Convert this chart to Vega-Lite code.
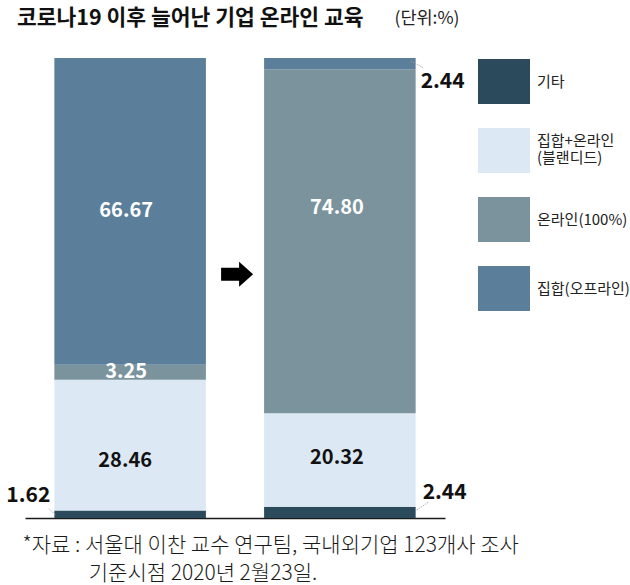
{
  "$schema": "https://vega.github.io/schema/vega-lite/v6.json",
  "width": 420,
  "height": 460,
  "autosize": {"type": "none"},
  "padding": {"left": 25, "top": 58, "right": 185, "bottom": 67},
  "background": "white",
  "config": {"view": {"stroke": null}, "font": "Noto Sans CJK KR"},
  "title": {
    "text": "코로나19 이후 늘어난 기업 온라인 교육",
    "anchor": "start",
    "frame": "group",
    "font": "Noto Sans CJK KR",
    "fontSize": 21.5,
    "fontWeight": "bold",
    "color": "#111111",
    "dx": -8,
    "dy": 20,
    "offset": 0
  },
  "data": {
    "values": [
      {"period": "이전", "category": "기타", "value": 1.62, "order": 1},
      {"period": "이전", "category": "집합+온라인 (블랜디드)", "value": 28.46, "order": 2},
      {"period": "이전", "category": "온라인(100%)", "value": 3.25, "order": 3},
      {"period": "이전", "category": "집합(오프라인)", "value": 66.67, "order": 4},
      {"period": "이후", "category": "기타", "value": 2.44, "order": 1},
      {"period": "이후", "category": "집합+온라인 (블랜디드)", "value": 20.32, "order": 2},
      {"period": "이후", "category": "온라인(100%)", "value": 74.80, "order": 3},
      {"period": "이후", "category": "집합(오프라인)", "value": 2.44, "order": 4}
    ]
  },
  "encoding": {
    "x": {
      "field": "period",
      "type": "nominal",
      "scale": {"domain": ["이전", "이후"], "paddingInner": 0.2775, "paddingOuter": 0.14},
      "axis": {
        "labels": false,
        "ticks": false,
        "grid": false,
        "domain": true,
        "domainColor": "#1a1a1a",
        "domainWidth": 1.5,
        "title": ["*자료 : 서울대 이찬 교수 연구팀, 국내외기업 123개사 조사", "\u2800\u3000\u3000\u00a0\u00a0기준시점 2020년 2월23일."],
        "titleFont": "Noto Sans CJK KR",
        "titleFontSize": 21,
        "titleFontWeight": 300,
        "titleColor": "#1a1a1a",
        "titleAnchor": "start",
        "titleAlign": "left",
        "titleBaseline": "alphabetic",
        "titleLineHeight": 28,
        "titleX": -3,
        "titleY": 33
      }
    },
    "y": {
      "field": "value",
      "type": "quantitative",
      "stack": "zero",
      "scale": {"domain": [0, 100], "nice": false},
      "axis": {
        "labels": false,
        "ticks": false,
        "grid": false,
        "domain": false,
        "title": "(단위:%)",
        "titleAngle": 0,
        "titleFont": "Noto Sans CJK KR",
        "titleFontSize": 17.5,
        "titleFontWeight": "normal",
        "titleColor": "#222222",
        "titleAlign": "left",
        "titleBaseline": "alphabetic",
        "titleX": 369,
        "titleY": -35
      }
    },
    "order": {"field": "order", "type": "quantitative"}
  },
  "layer": [
    {
      "mark": {"type": "bar", "strokeWidth": 0},
      "encoding": {
        "color": {
          "field": "category",
          "type": "nominal",
          "scale": {
            "domain": ["기타", "집합+온라인 (블랜디드)", "온라인(100%)", "집합(오프라인)"],
            "range": ["#2b4a5c", "#dce8f3", "#7a939d", "#5b7f9b"]
          },
          "legend": {
            "title": null,
            "orient": "none",
            "legendX": 456.5,
            "legendY": 1,
            "padding": 0,
            "symbolType": "M-1.156,-1L1.156,-1L1.156,1L-1.156,1Z",
            "symbolSize": 2025,
            "symbolStrokeWidth": 0,
            "symbolOpacity": 1,
            "rowPadding": 24,
            "labelOffset": 10.5,
            "labelFont": "Noto Sans CJK KR",
            "labelFontSize": 15,
            "labelColor": "#222222",
            "labelLimit": 0,
            "labelLineHeight": 21,
            "labelExpr": "datum.label == '집합+온라인 (블랜디드)' ? ['집합+온라인', '(블랜디드)'] : datum.label",
            "encode": {
              "labels": {
                "update": {
                  "dy": {"signal": "datum.label == '집합+온라인 (블랜디드)' ? -10 : 0"}
                }
              }
            }
          }
        }
      }
    },
    {
      "mark": {"type": "text", "baseline": "middle", "align": "center", "font": "Noto Sans CJK KR", "fontSize": 20, "fontWeight": "bold", "dx": -4, "color": "white"},
      "encoding": {
        "y": {"field": "value", "type": "quantitative", "stack": "zero", "bandPosition": 0.5},
        "text": {"condition": {"test": "datum.category == '집합(오프라인)' && datum.period == '이전' || datum.category == '온라인(100%)' && datum.period == '이전'", "field": "value", "format": ".2f"}, "value": ""}
      }
    },
    {
      "mark": {"type": "text", "baseline": "middle", "align": "center", "font": "Noto Sans CJK KR", "fontSize": 20, "fontWeight": "bold", "dx": -3, "dy": -33, "color": "white"},
      "encoding": {
        "y": {"field": "value", "type": "quantitative", "stack": "zero", "bandPosition": 0.5},
        "text": {"condition": {"test": "datum.category == '온라인(100%)' && datum.period == '이후'", "field": "value", "format": ".2f"}, "value": ""}
      }
    },
    {
      "mark": {"type": "text", "baseline": "middle", "align": "center", "font": "Noto Sans CJK KR", "fontSize": 20, "fontWeight": "bold", "dx": -5, "dy": 16, "color": "#111111"},
      "encoding": {
        "y": {"field": "value", "type": "quantitative", "stack": "zero", "bandPosition": 0.5},
        "text": {"condition": {"test": "datum.order == 2 && datum.period == '이전'", "field": "value", "format": ".2f"}, "value": ""}
      }
    },
    {
      "mark": {"type": "text", "baseline": "middle", "align": "center", "font": "Noto Sans CJK KR", "fontSize": 20, "fontWeight": "bold", "dx": -3, "dy": -2, "color": "#111111"},
      "encoding": {
        "y": {"field": "value", "type": "quantitative", "stack": "zero", "bandPosition": 0.5},
        "text": {"condition": {"test": "datum.order == 2 && datum.period == '이후'", "field": "value", "format": ".2f"}, "value": ""}
      }
    },
    {
      "mark": {"type": "text", "baseline": "middle", "align": "right", "font": "Noto Sans CJK KR", "fontSize": 21, "fontWeight": "bold", "dx": -4, "dy": -15, "color": "#111111"},
      "encoding": {
        "x": {"field": "period", "type": "nominal", "bandPosition": 0},
        "text": {"condition": {"test": "datum.order == 1 && datum.period == '이전'", "field": "value", "format": ".2f"}, "value": ""}
      }
    },
    {
      "mark": {"type": "text", "baseline": "middle", "align": "left", "font": "Noto Sans CJK KR", "fontSize": 21, "fontWeight": "bold", "dx": 7, "dy": -14, "color": "#111111"},
      "encoding": {
        "x": {"field": "period", "type": "nominal", "bandPosition": 1},
        "text": {"condition": {"test": "datum.order == 1 && datum.period == '이후'", "field": "value", "format": ".2f"}, "value": ""}
      }
    },
    {
      "mark": {"type": "text", "baseline": "middle", "align": "left", "font": "Noto Sans CJK KR", "fontSize": 21, "fontWeight": "bold", "dx": 5, "dy": 24, "color": "#111111"},
      "encoding": {
        "x": {"field": "period", "type": "nominal", "bandPosition": 1},
        "text": {"condition": {"test": "datum.order == 4 && datum.period == '이후'", "field": "value", "format": ".2f"}, "value": ""}
      }
    },
    {
      "transform": [{"filter": "datum.order == 1 && datum.period == '이전'"}],
      "mark": {"type": "point", "shape": "M1,-3L-6,-10", "size": 4, "filled": false, "stroke": "#9a9a9a", "strokeWidth": 0.8, "strokeDash": [1.5, 1], "opacity": 1},
      "encoding": {
        "x": {"field": "period", "type": "nominal", "bandPosition": 0},
        "y": {"datum": 0, "type": "quantitative"}
      }
    },
    {
      "transform": [{"filter": "datum.order == 1 && datum.period == '이후'"}],
      "mark": {"type": "point", "shape": "M1,-8L13,-16", "size": 4, "filled": false, "stroke": "#9a9a9a", "strokeWidth": 0.8, "strokeDash": [1.5, 1], "opacity": 1},
      "encoding": {
        "x": {"field": "period", "type": "nominal", "bandPosition": 1},
        "y": {"datum": 0, "type": "quantitative"}
      }
    },
    {
      "transform": [{"filter": "datum.order == 4 && datum.period == '이후'"}],
      "mark": {"type": "point", "shape": "M-5,3L8,10", "size": 4, "filled": false, "stroke": "#9a9a9a", "strokeWidth": 0.8, "strokeDash": [1.5, 1], "opacity": 1},
      "encoding": {
        "x": {"field": "period", "type": "nominal", "bandPosition": 1},
        "y": {"datum": 100, "type": "quantitative"}
      }
    },
    {
      "transform": [{"filter": "datum.order == 1 && datum.period == '이후'"}],
      "mark": {"type": "point", "shape": "M-43,-6.5L-25,-6.5L-25,-12.5L-11,0L-25,12.5L-25,6.5L-43,6.5Z", "size": 4, "filled": true, "fill": "#000000", "strokeWidth": 0, "opacity": 1},
      "encoding": {
        "x": {"field": "period", "type": "nominal", "bandPosition": 0},
        "y": {"datum": 53, "type": "quantitative"}
      }
    }
  ]
}
